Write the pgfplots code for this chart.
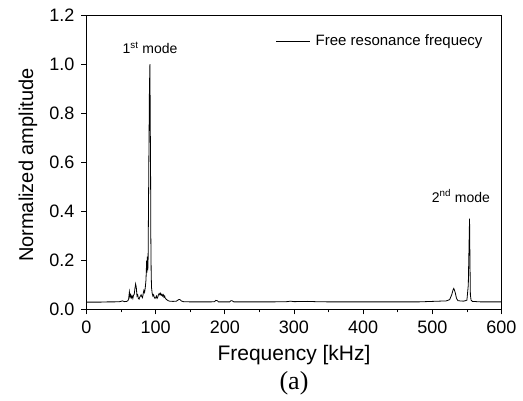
\documentclass[border=0pt]{standalone}
\usepackage{pgfplots}
\pgfplotsset{compat=1.18}
\usepackage{fontspec}
\setmainfont{Liberation Sans}
\newfontfamily\timesfont{Liberation Serif}
\pgfplotstableread{
x y
0 0.030
10 0.030
20 0.030
30 0.031
40 0.031
48 0.032
52 0.035
55 0.032
58 0.033
60 0.036
61 0.045
62 0.072
63 0.050
64 0.060
65 0.048
66 0.055
67 0.045
68 0.058
69 0.062
70 0.085
71 0.104
72 0.090
73 0.055
74 0.060
75 0.045
76 0.042
77 0.050
78 0.055
79 0.060
80 0.052
81 0.048
82 0.065
83 0.078
84 0.070
85 0.090
86 0.120
87 0.200
87.5 0.150
88 0.215
88.5 0.160
89 0.180
90 0.55
91 0.90
91.7 1.000
92.2 0.75
92.6 0.60
93 0.30
93.5 0.15
94 0.09
95 0.065
96 0.055
97 0.060
98 0.050
99 0.045
100 0.048
101 0.055
102 0.045
103 0.050
104 0.060
105 0.065
106 0.060
107 0.066
108 0.058
109 0.062
110 0.055
111 0.060
112 0.050
113 0.055
114 0.045
116 0.040
118 0.036
120 0.034
125 0.033
130 0.034
133 0.040
135 0.041
137 0.035
140 0.032
150 0.031
160 0.031
170 0.031
180 0.031
185 0.032
187 0.037
189 0.036
191 0.031
200 0.031
207 0.031
209 0.036
211 0.035
213 0.031
230 0.031
250 0.031
270 0.031
290 0.032
295 0.034
300 0.032
320 0.033
330 0.032
350 0.031
380 0.031
400 0.031
420 0.031
450 0.031
480 0.031
500 0.033
510 0.034
520 0.035
525 0.040
528 0.060
530 0.080
531 0.086
533 0.070
535 0.045
537 0.036
540 0.035
545 0.034
548 0.036
550 0.038
552 0.10
553 0.25
553.8 0.370
554.4 0.20
555 0.060
556 0.038
558 0.033
570 0.031
585 0.031
600 0.031
}\spectrum
\begin{document}
\begin{tikzpicture}
\begin{axis}[
  scale only axis,
  width=415pt, height=294.5pt,
  xmin=0, xmax=600, ymin=0, ymax=1.2,
  xtick={0,100,...,600},
  ytick={0,0.2,...,1.2},
  minor xtick={50,150,...,550},
  yticklabel style={xshift=-3.5pt, /pgf/number format/.cd, fixed, fixed zerofill, precision=1},
  /pgf/number format/assume math mode=true,
  tick align=outside,
  xtick pos=bottom, ytick pos=left,
  major tick length=5pt, minor tick length=3pt,
  tick style={black, line width=0.8pt},
  axis line style={line width=0.8pt},
  ticklabel style={font=\fontsize{18}{21}\selectfont},
  xticklabel style={yshift=-2.5pt},
  clip=false,
  legend style={draw=none, fill=none, at={(0.456,0.912)}, anchor=west,
    font=\fontsize{15}{18}\selectfont, inner sep=0pt},
  legend cell align=left,
  legend image code/.code={\draw[#1, line width=0.8pt] (0pt,0pt) -- (34pt,0pt);},
]
\addplot[black, line width=0.8pt] table[x=x, y=y] {\spectrum};
\addlegendentry{\hspace{3pt}Free resonance frequecy}
\node[font=\fontsize{14}{17}\selectfont] at (axis cs:91.8,1.066) {1\textsuperscript{st} mode};
\node[font=\fontsize{14}{17}\selectfont] at (axis cs:541.4,0.462) {2\textsuperscript{nd} mode};
\coordinate (sw) at (rel axis cs:0,0);
\coordinate (ne) at (rel axis cs:1,1);
\coordinate (yl) at (rel axis cs:0,0.5);
\coordinate (xl) at (rel axis cs:0.5,0);
\end{axis}
\node[rotate=90, font=\fontsize{20}{24}\selectfont] at ([xshift=-58.5pt,yshift=-3pt]yl) {Normalized amplitude};
\node[font=\fontsize{21}{25}\selectfont] at ([yshift=-45.5pt]xl) {Frequency [kHz]};
\node[font=\fontsize{26}{30}\selectfont\timesfont] at ([yshift=-74pt]xl) {(a)};
\pgfresetboundingbox
\path ([xshift=-86.5pt,yshift=-91.5pt]sw) rectangle ([xshift=21.5pt,yshift=15pt]ne);
\end{tikzpicture}
\end{document}
